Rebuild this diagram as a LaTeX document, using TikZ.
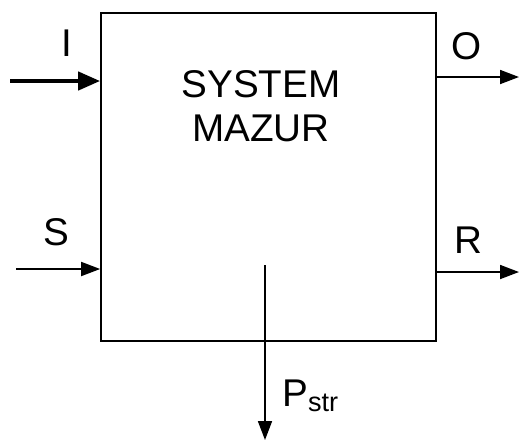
\documentclass[tikz,border=0pt]{standalone}
\usepackage{fontspec}
\setmainfont{Liberation Sans}
\usetikzlibrary{arrows.meta}
\tikzset{
  flow/.style={line width=1pt,-{Triangle[length=0.38cm,width=0.28cm]}},
  mainflow/.style={line width=2.4pt,-{Triangle[length=0.44cm,width=0.36cm]}},
  lbl/.style={font=\fontsize{22}{26}\selectfont,inner sep=0pt}
}
\begin{document}
\begin{tikzpicture}[x=0.02cm,y=-0.02cm,line join=miter]
	\useasboundingbox (0,0) rectangle (520,441);
	\node[draw,line width=1pt,minimum width=6.7cm,minimum height=6.56cm,inner sep=0pt] (sys) at (268.5,177) {};
	\node[lbl,align=center,font=\fontsize{22}{25}\selectfont] (name) at (261,106) {SYSTEM\\MAZUR};
	% inputs
	\coordinate (inI) at (10,81);
	\coordinate (inS) at (16,269);
	\draw[mainflow] (inI) -- (inI -| sys.west);
	\draw[flow] (inS) -- (inS -| sys.west);
	\node[lbl] (lI) at (67,43) {I};
	\node[lbl] (lS) at (56,232) {S};
	% outputs
	\coordinate (outO) at (519,77);
	\coordinate (outR) at (519,272);
	\draw[flow] (outO -| sys.east) -- (outO);
	\draw[flow] (outR -| sys.east) -- (outR);
	\node[lbl] (lO) at (467,46) {O};
	\node[lbl] (lR) at (468,240) {R};
	% losses
	\coordinate (pin) at (265,265);
	\coordinate (pout) at (265,440);
	\draw[flow] (pin) -- (pout);
	\node[lbl,anchor=base west] (lP) at (282,406) {P\textsubscript{str}};
\end{tikzpicture}
\end{document}
